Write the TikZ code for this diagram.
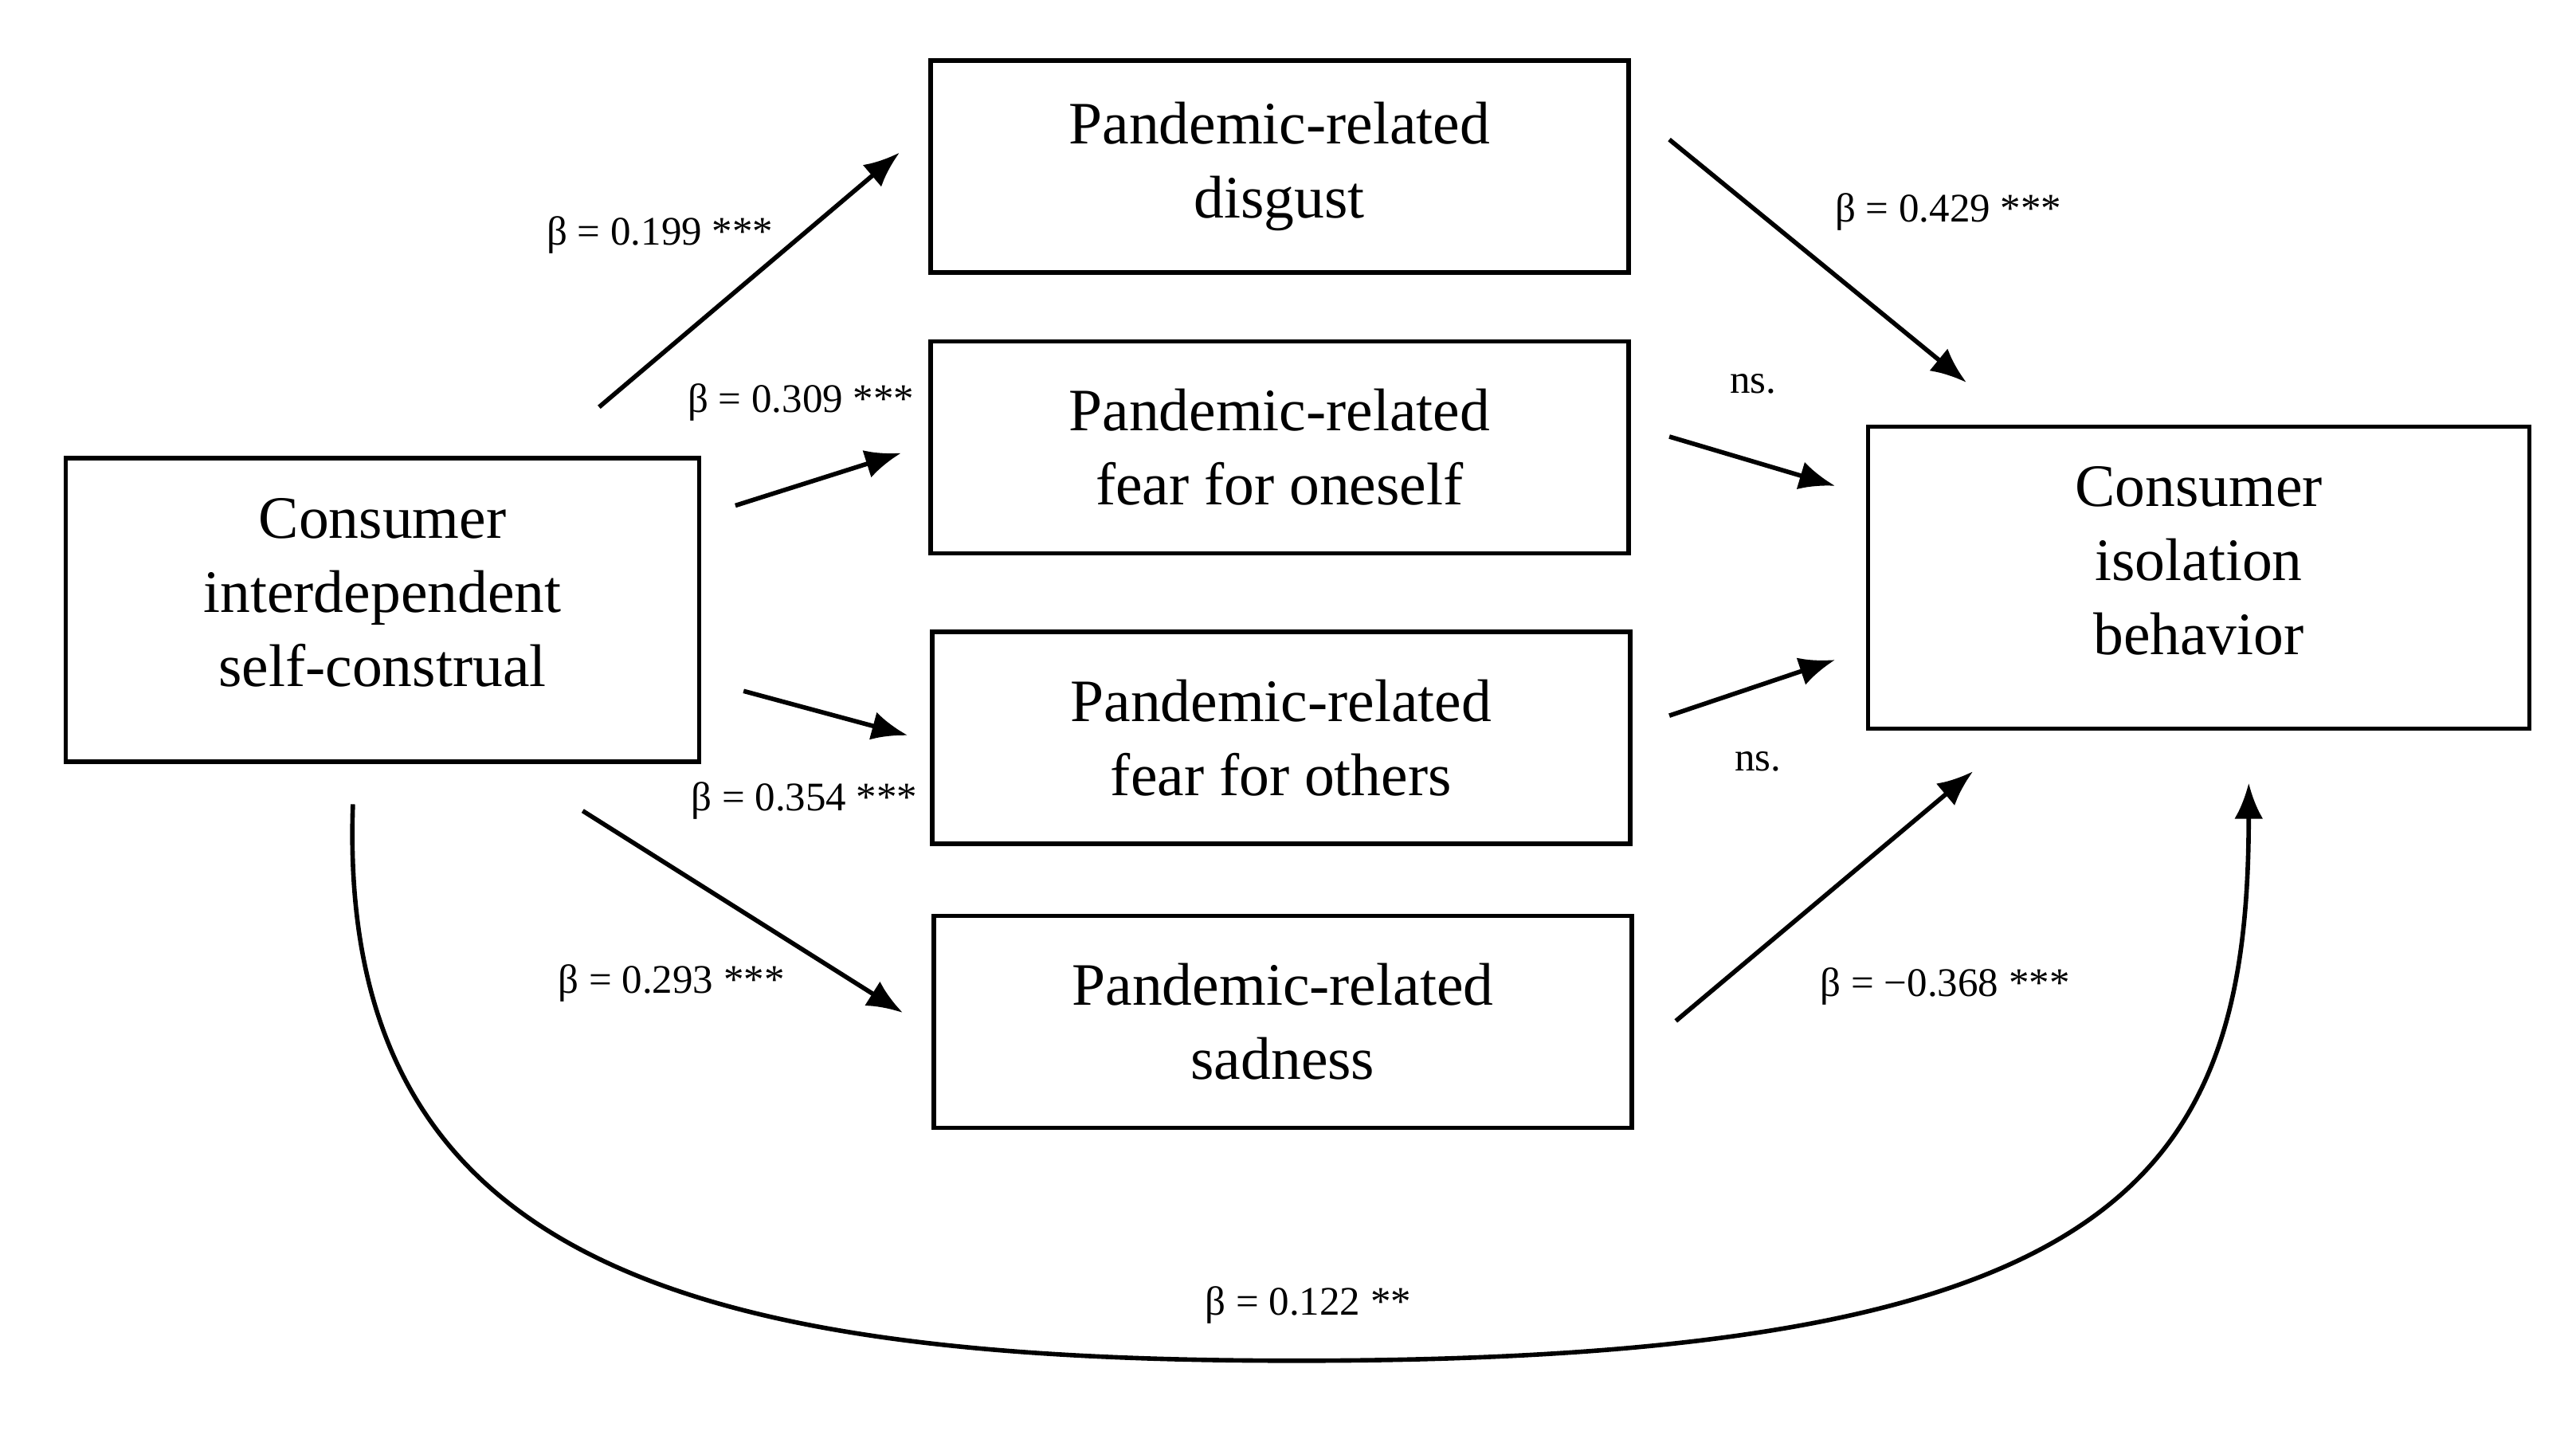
\documentclass[tikz,border=0pt]{standalone}
\usepackage{fontspec}
\setmainfont{Liberation Serif}
\usetikzlibrary{arrows.meta}
\tikzset{
  box/.style={draw,line width=1.6pt,align=center,inner sep=0pt,
    font=\fontsize{21.5}{26.5}\selectfont},
  path/.style={line width=1.6pt,-{Latex[length=0.45cm,width=0.36cm]}},
  coef/.style={font=\fontsize{14.5}{16}\selectfont}
}
\begin{document}
\begin{tikzpicture}[x=0.0206cm,y=-0.0206cm]
  \useasboundingbox (0,0) rectangle (1569.4,871.8);

  \node[box,minimum width=7.95cm,minimum height=3.81cm] (ICS) at (233,371.5) {Consumer\\interdependent\\self-construal\\[-0.5cm]};
  \node[box,minimum width=8.76cm,minimum height=2.66cm] (disgust) at (779.5,101.5) {Pandemic-related\\disgust};
  \node[box,minimum width=8.76cm,minimum height=2.66cm] (fearself) at (779.5,272.5) {Pandemic-related\\fear for oneself};
  \node[box,minimum width=8.76cm,minimum height=2.66cm] (fearothers) at (780.5,449.5) {Pandemic-related\\fear for others};
  \node[box,minimum width=8.76cm,minimum height=2.66cm] (sadness) at (781.5,622.5) {Pandemic-related\\sadness};
  \node[box,minimum width=8.3cm,minimum height=3.79cm] (CIB) at (1339.5,352) {Consumer\\isolation\\behavior\\[-0.5cm]};

  % arrow ends
  \coordinate (s1) at (365,248);  \coordinate (e1) at (548,93);
  \coordinate (s2) at (448,308);  \coordinate (e2) at (549,276);
  \coordinate (s3) at (453,421);  \coordinate (e3) at (553,448);
  \coordinate (s4) at (355,494);  \coordinate (e4) at (550,617);
  \coordinate (s5) at (1017,85);  \coordinate (e5) at (1198,233);
  \coordinate (s6) at (1017,266); \coordinate (e6) at (1118,296);
  \coordinate (s7) at (1017,436); \coordinate (e7) at (1118,402);
  \coordinate (s8) at (1021,622); \coordinate (e8) at (1202,470);
  \coordinate (s9) at (215,490);  \coordinate (m9) at (790,829);
  \coordinate (e9) at (1370,477);

  \draw[path] (s1) -- (e1);
  \draw[path] (s2) -- (e2);
  \draw[path] (s3) -- (e3);
  \draw[path] (s4) -- (e4);
  \draw[path] (s5) -- (e5);
  \draw[path] (s6) -- (e6);
  \draw[path] (s7) -- (e7);
  \draw[path] (s8) -- (e8);
  \draw[path] (s9) .. controls (205,770) and (420,829) .. (m9)
    .. controls (1290,829) and (1370,720) .. (e9);

  \node[coef] (b1) at (402,143) {β = 0.199 ***};
  \node[coef] (b2) at (488,245) {β = 0.309 ***};
  \node[coef] (b3) at (490,488) {β = 0.354 ***};
  \node[coef] (b4) at (409,599) {β = 0.293 ***};
  \node[coef] (b5) at (1187,129) {β = 0.429 ***};
  \node[coef] (b6) at (1068,234) {ns.};
  \node[coef] (b7) at (1071,464) {ns.};
  \node[coef] (b8) at (1185,601) {β = −0.368 ***};
  \node[coef] (b9) at (797,795) {β = 0.122 **};
\end{tikzpicture}
\end{document}
